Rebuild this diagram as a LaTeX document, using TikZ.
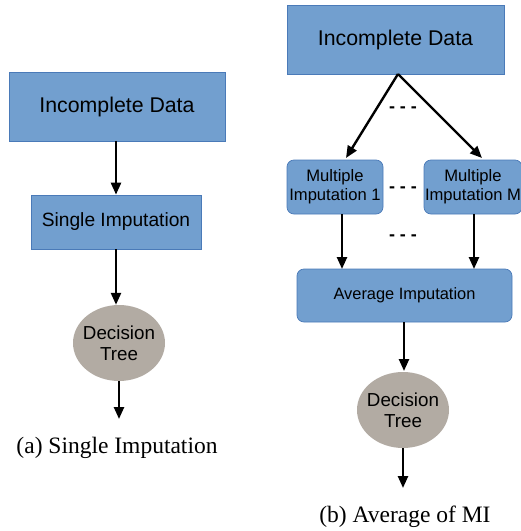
\documentclass[tikz,border=0pt]{standalone}
\usepackage{fontspec}
\setmainfont{Liberation Serif}
\newfontfamily\boxfont{Liberation Sans}
\usetikzlibrary{arrows.meta,shapes.geometric}
\definecolor{boxblue}{HTML}{729FCF}
\definecolor{boxline}{HTML}{4A7AB8}
\definecolor{treegray}{HTML}{B2ABA3}
\tikzset{
  sqbox/.style={draw=boxline, line width=0.7pt, fill=boxblue, inner sep=0pt, font=\boxfont},
  rdbox/.style={sqbox, rounded corners=7pt},
  tree/.style={ellipse, fill=treegray, inner xsep=-4pt, inner ysep=0pt, minimum width=92pt, minimum height=76pt, font=\boxfont\fontsize{18.8}{21}\selectfont, align=center},
  arr/.style={line width=2.4pt, -{Triangle[length=12pt,width=10pt]}},
  dots/.style={font=\boxfont\bfseries\fontsize{18}{18}\selectfont},
  captext/.style={font=\fontsize{23.5}{26}\selectfont}
}
\begin{document}
\begin{tikzpicture}[x=1pt,y=-1pt]
\useasboundingbox (0,0) rectangle (521,531);
\clip (0,0) rectangle (521,531);
% (a)
\node[sqbox, minimum width=216pt, minimum height=69pt, font=\boxfont\fontsize{21.3}{24}\selectfont] (a1) at (117,106.5) {Incomplete Data};
\node[sqbox, minimum width=170pt, minimum height=54pt, font=\boxfont\fontsize{19.2}{22}\selectfont] (a2) at (116,222) {Single Imputation};
\node[tree] (a3) at (119,343) {Decision\\Tree};
\coordinate (a4) at (119,419);
\draw[arr] (a1.south -| a2.north) -- (a2.north);
\draw[arr] (a2.south) -- (a2.south |- a3.north);
\draw[arr] (a3.south) -- (a4);
\node[captext] (ca) at (117,448) {(a) Single Imputation};
% (b)
\node[sqbox, minimum width=217pt, minimum height=69pt, font=\boxfont\fontsize{21.3}{24}\selectfont] (b1) at (395.5,39.5) {Incomplete Data};
\node[rdbox, minimum width=96pt, minimum height=54pt, align=center, font=\boxfont\fontsize{16.6}{19}\selectfont] (m1) at (335,187) {Multiple\\Imputation 1};
\node[rdbox, minimum width=98pt, minimum height=54pt, align=center, font=\boxfont\fontsize{16.6}{19}\selectfont] (mm) at (473,187) {Multiple\\Imputation M};
\node[rdbox, minimum width=215pt, minimum height=53pt, font=\boxfont\fontsize{16.4}{19}\selectfont] (av) at (404.5,295.5) {Average Imputation};
\node[tree] (b3) at (403,410) {Decision\\Tree};
\coordinate (b4) at (403,488);
\coordinate (top) at (398,74);
\draw[arr] (top) -- (346,158);
\draw[arr] (top) -- (482,158);
\draw[arr] (342,214) -- (342,269);
\draw[arr] (474,214) -- (474,269);
\draw[arr] (404,322) -- (404,371);
\draw[arr] (b3.south) -- (b4);
\node[dots] (d1) at (403,110) {- - -};
\node[dots] (d2) at (403,190) {- - -};
\node[dots] (d3) at (403,238) {- - -};
\node[captext] (cb) at (405,517) {(b) Average of MI};
\end{tikzpicture}
\end{document}
